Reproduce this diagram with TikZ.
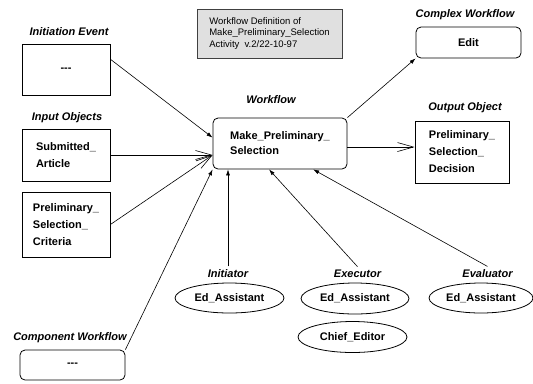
\documentclass[tikz,border=0pt]{standalone}
\usepackage{fontspec}
\setmainfont{Liberation Sans}
\usetikzlibrary{arrows.meta,shapes.geometric,positioning}
\tikzset{font={\fontsize{11bp}{17bp}\selectfont\bfseries}}
\tikzset{
  objbox/.style={draw, line width=0.8bp, align=left, inner sep=0pt},
  wfbox/.style={objbox, rounded corners=5bp},
  rolebox/.style={draw, ellipse, line width=0.8bp, inner sep=0pt},
  kind/.style={font={\fontsize{11bp}{13bp}\selectfont\bfseries\itshape}},
  small arrow/.style={-{Latex[length=6bp,width=4bp]}, line width=0.6bp},
  big arrow/.style={-{Straight Barb[length=16bp,width=9bp]}, line width=0.6bp}
}

\begin{document}
\begin{tikzpicture}[x=1bp,y=-1bp]
\useasboundingbox (0,0) rectangle (533,383);

% note
\node[draw=black!75, fill=black!12, line width=0.8bp, minimum width=145bp, minimum height=49bp,
  align=left, inner sep=0pt, font={\fontsize{9.5bp}{11.5bp}\selectfont}] (note) at (269.5,33.5)
  {Workflow Definition of\\Make\_Preliminary\_Selection\\Activity\ \ v.2/22-10-97};

% left side
\node[kind] (initlab) at (69,32) {Initiation Event};
\node[objbox, minimum width=88bp, minimum height=51bp] (initbox) at (66,69.5) {-{}-{}-};
\node[kind] (inlab) at (67,118) {Input Objects};
\node[objbox, minimum width=88bp, minimum height=52bp] (subbox) at (66,155) {Submitted\_\\Article};
\node[objbox, minimum width=88bp, minimum height=65bp] (critbox) at (66,224.5) {Preliminary\_\\Selection\_\\Criteria};
\node[kind] (complab) at (70,338) {Component Workflow};
\node[wfbox, minimum width=105bp, minimum height=30bp] (compbox) at (72.5,365) {-{}-{}-};

% workflow
\node[kind] (wflab) at (271,100) {Workflow};
\node[wfbox, minimum width=134bp, minimum height=51bp, font={\fontsize{11bp}{15bp}\selectfont\bfseries}] (mainbox) at (280,143.5) {Make\_Preliminary\_\\Selection};

% right side
\node[kind] (cwlab) at (465,15) {Complex Workflow};
\node[wfbox, minimum width=105bp, minimum height=31bp] (editbox) at (468.5,42.5) {Edit};
\node[kind] (oolab) at (465,108) {Output Object};
\node[objbox, minimum width=94bp, minimum height=62bp] (outbox) at (462,152) {Preliminary\_\\Selection\_\\Decision};

% roles
\node[kind] (initrlab) at (228,274) {Initiator};
\node[rolebox, minimum width=109bp, minimum height=30bp] (initr) at (229.5,298) {Ed\_Assistant};
\node[kind] (execlab) at (357.5,274) {Executor};
\node[rolebox, minimum width=108bp, minimum height=31bp] (exec1) at (355,298.5) {Ed\_Assistant};
\node[rolebox, minimum width=109bp, minimum height=31bp] (exec2) at (352.5,337) {Chief\_Editor};
\node[kind] (evallab) at (487.5,274) {Evaluator};
\node[rolebox, minimum width=104bp, minimum height=30bp] (eval) at (481,298) {Ed\_Assistant};

\coordinate (meet) at (subbox.east -| mainbox.west);

\draw[small arrow] (initbox.13) -- (mainbox.175);
\draw[big arrow] (subbox.east) -- (meet);
\draw[big arrow] (critbox.east) -- (meet);
\draw[small arrow] (compbox.north east) -- (mainbox.south west);
\draw[small arrow] (initrlab.north) -- (initrlab.north |- mainbox.south);
\draw[small arrow] (execlab.north) -- (mainbox.247);
\draw[small arrow] (evallab.north) -- (mainbox.322);
\draw[big arrow] (mainbox.-3) -- (mainbox.-3 -| outbox.west);
\draw[small arrow] (mainbox.north east) -- (editbox.south west);
\end{tikzpicture}
\end{document}
